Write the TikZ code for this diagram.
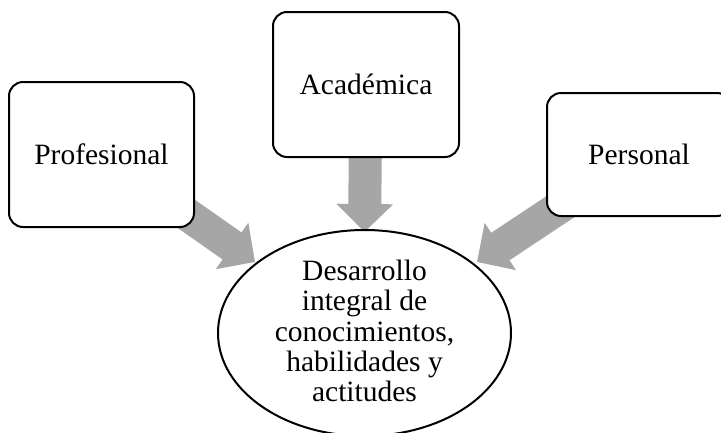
\documentclass[tikz,border=0pt]{standalone}
\usepackage{fontspec}
\setmainfont{Liberation Serif}
\usetikzlibrary{arrows.meta,shapes.geometric,backgrounds}
\definecolor{arrowgray}{RGB}{166,166,166}
\begin{document}
\begin{tikzpicture}[x=1pt,y=-1pt,
  box/.style={draw, line width=2, rounded corners=14, fill=white,
    minimum width=185, minimum height=145, inner sep=0,
    font=\fontsize{29.5}{30}\selectfont},
  bigarrow/.style={draw=arrowgray, line width=33,
    -{Triangle[width=55,length=28,fill=arrowgray]}},
  goal/.style={draw, line width=2, ellipse, fill=white,
    minimum width=293, minimum height=192, inner sep=0, align=center,
    font=\fontsize{29.5}{30.3}\selectfont}]
\useasboundingbox (0,0) rectangle (721,432);
\clip (0,0) rectangle (721,432);
\node[box] (prof) at (101.5,154.5) {Profesional};
\node[box, minimum width=186] (aca) at (366,84.5) {Académica};
\node[box, minimum width=184, minimum height=123] (pers) at (639,154.5) {Personal};
\node[goal, text depth=4] (goal) at (364.5,333) {Desarrollo\\integral de\\conocimientos,\\habilidades y\\actitudes};
\coordinate (t1) at (255,262);
\coordinate (t2) at (364.5,232);
\coordinate (t3) at (477,262);
\begin{pgfonlayer}{background}
\draw[bigarrow] (prof.center) -- (t1);
\draw[bigarrow] (aca.center) -- (t2);
\draw[bigarrow] (pers.center) -- (t3);
\end{pgfonlayer}
\end{tikzpicture}
\end{document}
